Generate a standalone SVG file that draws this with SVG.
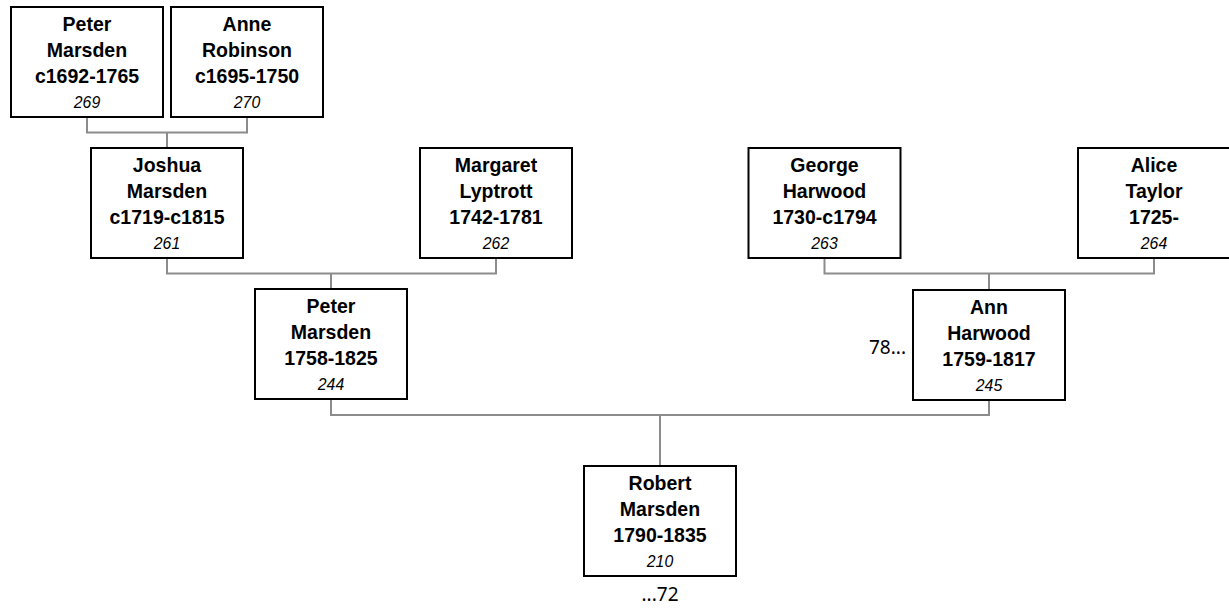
<svg xmlns="http://www.w3.org/2000/svg" width="1229" height="608" viewBox="0 0 1229 608">
<style>
.box{fill:#fff;stroke:#000;stroke-width:2}
.n{font-family:"Liberation Sans",Arial,sans-serif;font-weight:bold;font-size:21px;text-anchor:middle;fill:#000}
.id{font-family:"Liberation Sans",Arial,sans-serif;font-style:italic;font-size:17px;text-anchor:middle;fill:#000}
.c{fill:none;stroke:#8c8c8c;stroke-width:2}
.x{font-family:"Noto Sans","Open Sans",sans-serif;font-size:19px;fill:#000}
</style>
<rect width="1229" height="608" fill="#fff"/>
<g id="connectors">
<path class="c" d="M87,117V132.5H247V117M167,132.5V148"/>
<path class="c" d="M167,258V273.5H496V258M331,273.5V289"/>
<path class="c" d="M824.5,258V273.5H1154V258M989,273.5V290"/>
<path class="c" d="M331,399V415H989V400M660,415V466"/>
</g>
<g id="n269"><rect class="box" x="11" y="7" width="152" height="110"/>
<g transform="translate(87 0) scale(.93 1)"><text class="n" x="0" y="31">Peter</text><text class="n" x="0" y="57">Marsden</text><text class="n" x="0" y="83">c1692-1765</text><text class="id" x="0" y="108">269</text></g></g>
<g id="n270"><rect class="box" x="171" y="7" width="152" height="110"/>
<g transform="translate(247 0) scale(.93 1)"><text class="n" x="0" y="31">Anne</text><text class="n" x="0" y="57">Robinson</text><text class="n" x="0" y="83">c1695-1750</text><text class="id" x="0" y="108">270</text></g></g>
<g id="n261"><rect class="box" x="91" y="148" width="152" height="110"/>
<g transform="translate(167 0) scale(.93 1)"><text class="n" x="0" y="172">Joshua</text><text class="n" x="0" y="198">Marsden</text><text class="n" x="0" y="224">c1719-c1815</text><text class="id" x="0" y="249">261</text></g></g>
<g id="n262"><rect class="box" x="420" y="148" width="152" height="110"/>
<g transform="translate(496 0) scale(.93 1)"><text class="n" x="0" y="172">Margaret</text><text class="n" x="0" y="198">Lyptrott</text><text class="n" x="0" y="224">1742-1781</text><text class="id" x="0" y="249">262</text></g></g>
<g id="n263"><rect class="box" x="748.5" y="148" width="152" height="110"/>
<g transform="translate(824.5 0) scale(.93 1)"><text class="n" x="0" y="172">George</text><text class="n" x="0" y="198">Harwood</text><text class="n" x="0" y="224">1730-c1794</text><text class="id" x="0" y="249">263</text></g></g>
<g id="n264"><rect class="box" x="1078" y="148" width="152" height="110"/>
<g transform="translate(1154 0) scale(.93 1)"><text class="n" x="0" y="172">Alice</text><text class="n" x="0" y="198">Taylor</text><text class="n" x="0" y="224">1725-</text><text class="id" x="0" y="249">264</text></g></g>
<g id="n244"><rect class="box" x="255" y="289" width="152" height="110"/>
<g transform="translate(331 0) scale(.93 1)"><text class="n" x="0" y="313">Peter</text><text class="n" x="0" y="339">Marsden</text><text class="n" x="0" y="365">1758-1825</text><text class="id" x="0" y="390">244</text></g></g>
<g id="n245"><rect class="box" x="913" y="290" width="152" height="110"/>
<g transform="translate(989 0) scale(.93 1)"><text class="n" x="0" y="314">Ann</text><text class="n" x="0" y="340">Harwood</text><text class="n" x="0" y="366">1759-1817</text><text class="id" x="0" y="391">245</text></g>
<text class="x" x="906" y="354" text-anchor="end">78...</text></g>
<g id="n210"><rect class="box" x="584" y="466" width="152" height="110"/>
<g transform="translate(660 0) scale(.93 1)"><text class="n" x="0" y="490">Robert</text><text class="n" x="0" y="516">Marsden</text><text class="n" x="0" y="542">1790-1835</text><text class="id" x="0" y="567">210</text></g>
<text class="x" x="660" y="601" text-anchor="middle">...72</text></g>
</svg>
